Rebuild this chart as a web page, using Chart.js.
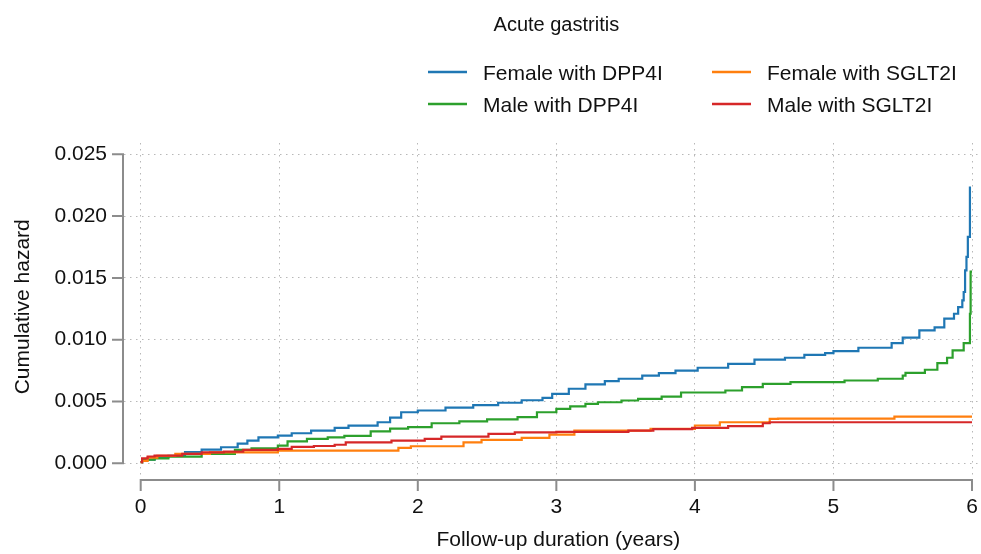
<!DOCTYPE html>
<html>
<head>
<meta charset="utf-8">
<title>Acute gastritis</title>
<script src="https://cdn.jsdelivr.net/npm/chart.js@4.4.1/dist/chart.umd.min.js"></script>
<style>
  html, body { margin: 0; padding: 0; background: #fff; overflow: hidden; }
  #wrap { width: 981px; height: 554px; position: relative; }
  #grafica { display: block; }
</style>
</head>
<body>
<div id="wrap"><canvas id="grafica"></canvas></div>
<script>
// datos (tiempo en años, hazard acumulado)
const xTicks = [0, 1, 2, 3, 4, 5, 6];
const yTicks = [0, 0.005, 0.010, 0.015, 0.020, 0.025];

const seriesLabels = ['Female with DPP4I', 'Female with SGLT2I', 'Male with DPP4I', 'Male with SGLT2I'];
const seriesColours = ['#1f77b4', '#ff7f0e', '#2ca02c', '#d62728'];

const femaleDpp4Time = [0, 0.01, 0.1, 0.2, 0.32, 0.44, 0.58, 0.7, 0.77, 0.85, 0.99, 1.09, 1.23, 1.4, 1.5, 1.71, 1.8, 1.88, 2.0, 2.2, 2.4, 2.58, 2.75, 2.9, 2.97, 3.09, 3.21, 3.35, 3.45, 3.62, 3.74, 3.86, 4.02, 4.24, 4.43, 4.65, 4.79, 4.94, 5.0, 5.18, 5.42, 5.5, 5.62, 5.73, 5.8, 5.87, 5.9, 5.93, 5.94, 5.95, 5.96, 5.97, 5.985];
const femaleDpp4Hazard = [0.0001, 0.0003, 0.0005, 0.0006, 0.0009, 0.0011, 0.0013, 0.0016, 0.00184, 0.0021, 0.00224, 0.00243, 0.00265, 0.00287, 0.00305, 0.00332, 0.0037, 0.00413, 0.00427, 0.0045, 0.0047, 0.0049, 0.0051, 0.0053, 0.00562, 0.00603, 0.00638, 0.00665, 0.00684, 0.0071, 0.00729, 0.0075, 0.00773, 0.00805, 0.00838, 0.00854, 0.00878, 0.00891, 0.00908, 0.00935, 0.00972, 0.01016, 0.01075, 0.011, 0.0117, 0.0121, 0.01264, 0.01318, 0.01386, 0.01561, 0.0167, 0.01832, 0.0224];

const femaleSglt2Time = [0, 0.01, 0.05, 0.12, 0.25, 0.5, 0.99, 1.86, 1.95, 2.33, 2.46, 2.75, 2.95, 3.13, 3.68, 4.0, 4.18, 4.54, 4.6, 5.44, 6.0];
const femaleSglt2Hazard = [0.0001, 0.0002, 0.00046, 0.0006, 0.00076, 0.00089, 0.00103, 0.00124, 0.00138, 0.0017, 0.0019, 0.00206, 0.00232, 0.00265, 0.00279, 0.00306, 0.00332, 0.0036, 0.00362, 0.00378, 0.00378];

const maleDpp4Time = [0, 0.01, 0.1, 0.2, 0.44, 0.68, 0.8, 0.99, 1.06, 1.2, 1.35, 1.47, 1.66, 1.8, 1.93, 2.1, 2.3, 2.5, 2.72, 2.86, 3.0, 3.1, 3.21, 3.3, 3.47, 3.59, 3.76, 3.9, 4.22, 4.34, 4.49, 4.69, 5.08, 5.32, 5.5, 5.52, 5.66, 5.75, 5.82, 5.86, 5.94, 5.985, 5.99, 6.0];
const maleDpp4Hazard = [0.0001, 0.0003, 0.0004, 0.00054, 0.00076, 0.00108, 0.0012, 0.00143, 0.00178, 0.00198, 0.0021, 0.00222, 0.00259, 0.0028, 0.00292, 0.00324, 0.0034, 0.00355, 0.00373, 0.00413, 0.0044, 0.0046, 0.00481, 0.00494, 0.00508, 0.00522, 0.0054, 0.00573, 0.00589, 0.00616, 0.00643, 0.00656, 0.0067, 0.00684, 0.0071, 0.00732, 0.00757, 0.0081, 0.00854, 0.00913, 0.00972, 0.0121, 0.0155, 0.0155];

const maleSglt2Time = [0, 0.01, 0.05, 0.1, 0.3, 0.44, 0.6, 0.74, 0.99, 1.09, 1.25, 1.4, 1.48, 1.81, 2.05, 2.17, 2.51, 2.7, 3.0, 3.52, 3.7, 3.98, 4.24, 4.49, 4.54, 6.0];
const maleSglt2Hazard = [0.0001, 0.0004, 0.00055, 0.00062, 0.00076, 0.00089, 0.00095, 0.00108, 0.00117, 0.00133, 0.0014, 0.0015, 0.0017, 0.00184, 0.00198, 0.00216, 0.00238, 0.00251, 0.00254, 0.00265, 0.00276, 0.00287, 0.003, 0.00324, 0.00332, 0.00332];

const seriesTimes = [femaleDpp4Time, femaleSglt2Time, maleDpp4Time, maleSglt2Time];
const seriesHazards = [femaleDpp4Hazard, femaleSglt2Hazard, maleDpp4Hazard, maleSglt2Hazard];

const fontFamily = '"Liberation Sans", Arial, Helvetica, sans-serif';
const axisColour = '#8c8c8c';
const textColour = '#111';

// ejes separados del area de trazado, estilo Stata
const offsetAxes = {
    id: 'offsetAxes',
    afterDraw(chart) {
        const {ctx, chartArea} = chart;
        const xs = chart.scales.x, ys = chart.scales.y;
        ctx.save();
        ctx.strokeStyle = axisColour;
        ctx.lineWidth = 2;
        ctx.beginPath();
        const xa = xs.getPixelForValue(xTicks[0]);
        const xb = xs.getPixelForValue(xTicks[xTicks.length - 1]);
        const axY = chartArea.bottom;
        ctx.moveTo(xa - 1, axY); ctx.lineTo(xb + 1, axY);
        xTicks.forEach(v => {
            const px = xs.getPixelForValue(v);
            ctx.moveTo(px, axY); ctx.lineTo(px, axY + 11);
        });
        const ya = ys.getPixelForValue(yTicks[0]);
        const yb = ys.getPixelForValue(yTicks[yTicks.length - 1]);
        const axX = chartArea.left - 1;
        ctx.moveTo(axX, ya + 1); ctx.lineTo(axX, yb - 1);
        yTicks.forEach(v => {
            const py = ys.getPixelForValue(v);
            ctx.moveTo(axX, py); ctx.lineTo(axX - 11, py);
        });
        ctx.stroke();

        // titulos de los ejes
        ctx.fillStyle = textColour;
        ctx.font = '21px ' + fontFamily;
        ctx.textAlign = 'center';
        ctx.textBaseline = 'middle';
        ctx.fillText('Follow-up duration (years)', (xa + xb) / 2 + 2, 540);
        ctx.save();
        ctx.translate(23, (ya + yb) / 2 - 2);
        ctx.rotate(-Math.PI / 2);
        ctx.fillText('Cumulative hazard', 0, 0);
        ctx.restore();

        // titulo y leyenda en dos columnas
        ctx.font = '20px ' + fontFamily;
        ctx.fillText('Acute gastritis', (xa + xb) / 2, 25);
        ctx.font = '21px ' + fontFamily;
        ctx.textAlign = 'left';
        const colX = [428, 712];
        const rowY = [72, 104];
        const order = [[0, 0, 0], [1, 1, 0], [2, 0, 1], [3, 1, 1]];
        order.forEach(([i, c, r]) => {
            ctx.strokeStyle = seriesColours[i];
            ctx.lineWidth = 2.5;
            ctx.beginPath();
            ctx.moveTo(colX[c], rowY[r]);
            ctx.lineTo(colX[c] + 39, rowY[r]);
            ctx.stroke();
            ctx.fillText(seriesLabels[i], colX[c] + 55, rowY[r] + 2);
        });
        ctx.restore();
    }
};

document.addEventListener('DOMContentLoaded', () => {
    const ctx = document.getElementById('grafica').getContext('2d');

    const datasets = seriesLabels.map((label, i) => ({
        label: label,
        data: seriesTimes[i].map((t, k) => ({x: t, y: seriesHazards[i][k]})),
        borderColor: seriesColours[i],
        backgroundColor: seriesColours[i],
        borderWidth: 2.2,
        pointRadius: 0,
        stepped: 'before',
        fill: false
    }));
    // dibujar en el orden de la figura (rojo encima)
    const drawOrder = [0, 2, 1, 3];
    datasets.forEach((d, i) => { d.order = 4 - drawOrder.indexOf(i); });

    new Chart(ctx, {
        type: 'line',
        data: {datasets: datasets},
        plugins: [offsetAxes],
        options: {
            responsive: true,
            maintainAspectRatio: false,
            animation: false,
            events: [],
            layout: {padding: {top: 143, right: 1, bottom: 0, left: 0}},
            plugins: {
                legend: {display: false},
                title: {display: false},
                tooltip: {enabled: false}
            },
            scales: {
                x: {
                    type: 'linear',
                    min: -0.1205,
                    max: 6.0577,
                    afterBuildTicks: s => { s.ticks = xTicks.map(v => ({value: v})); },
                    afterFit: s => { s.height = 74; s.paddingLeft = 0; s.paddingRight = 0; },
                    grid: {color: '#b8b8b8', lineWidth: 1, drawTicks: false},
                    border: {display: false, dash: [1.5, 4.5]},
                    ticks: {
                        padding: 15,
                        color: textColour,
                        font: {family: fontFamily, size: 21},
                        maxRotation: 0,
                        callback: v => String(v)
                    }
                },
                y: {
                    type: 'linear',
                    min: -0.001351,
                    max: 0.025914,
                    afterBuildTicks: s => { s.ticks = yTicks.map(v => ({value: v})); },
                    afterFit: s => { s.width = 124; s.paddingTop = 0; s.paddingBottom = 0; },
                    grid: {color: '#b8b8b8', lineWidth: 1, drawTicks: false},
                    border: {display: false, dash: [1.5, 4.5]},
                    ticks: {
                        padding: 17,
                        color: textColour,
                        font: {family: fontFamily, size: 21},
                        callback: v => v.toFixed(3)
                    }
                }
            }
        }
    });
});
</script>
</body>
</html>
